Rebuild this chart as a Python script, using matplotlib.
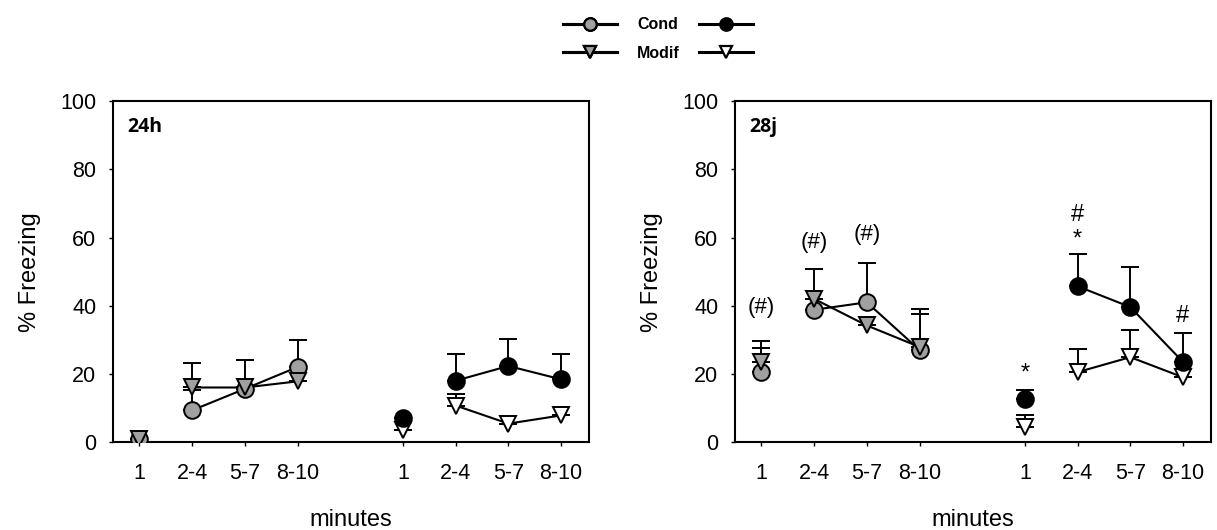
import matplotlib
matplotlib.use("Agg")
import matplotlib.pyplot as plt
from matplotlib.lines import Line2D
import numpy as np

plt.rcParams['font.family'] = ['Liberation Sans', 'DejaVu Sans']

# Category layout: two blocks of four time bins
tick_labels = ["1", "2-4", "5-7", "8-10", "1", "2-4", "5-7", "8-10"]
pos_first = [0, 1, 2, 3]
pos_second = [5, 6, 7, 8]

# 24h session
h24_cond_a = [1, 9.3, 15.6, 22]
h24_cond_a_err = [0, 6.0, 0, 7.8]
h24_modif_a = [1, 16, 16, 17.8]
h24_modif_a_err = [0, 7.2, 8.2, 0]
h24_cond_b = [7, 18, 22.3, 18.4]
h24_cond_b_err = [0, 7.7, 8.0, 7.3]
h24_modif_b = [3.5, 10.7, 5.4, 7.8]
h24_modif_b_err = [0, 3.3, 0, 0]

# 28j session
d28_cond_a = [20.5, 38.8, 41, 27]
d28_cond_a_err = [7, 0, 11.6, 10.6]
d28_modif_a = [23.5, 42, 34.2, 27.9]
d28_modif_a_err = [6, 8.8, 0, 11.2]
d28_cond_b = [12.7, 45.7, 39.6, 23.5]
d28_cond_b_err = [2.6, 9.5, 11.9, 8.5]
d28_modif_b = [4.4, 20.5, 24.9, 19]
d28_modif_b_err = [3.4, 6.9, 8.1, 0]

# Significance marks: (x, y, text)
d28_marks = [(0, 39.6, "(#)"), (1, 58.6, "(#)"), (2, 61.0, "(#)"),
             (5, 20.0, "*"), (6, 59.5, "*"), (6, 66.5, "#"), (8, 37.0, "#")]

gray = "#a0a0a0"
ms = 12


def series(ax, x, y, err, marker, face):
    ax.errorbar(x, y, yerr=[np.zeros(len(err)), err], fmt="none",
                ecolor="black", elinewidth=1.4, capsize=6.5, capthick=1.4, zorder=2)
    # first minute stands alone; the later bins are joined
    ax.plot(x[1:], y[1:], color="black", lw=1.5, zorder=2.5)
    ax.plot(x, y, linestyle="none", marker=marker, ms=ms,
            mfc=face, mec="black", mew=1.4, zorder=3)


def panel(ax, ca, cae, ma, mae, cb, cbe, mb, mbe, tag):
    series(ax, pos_first, ca, cae, "o", gray)
    series(ax, pos_first, ma, mae, "v", gray)
    series(ax, pos_second, mb, mbe, "v", "white")
    series(ax, pos_second, cb, cbe, "o", "black")
    ax.set_xlim(-0.5, 8.53)
    ax.set_ylim(0, 100)
    ax.set_yticks([0, 20, 40, 60, 80, 100])
    ax.set_xticks(pos_first + pos_second)
    ax.set_xticklabels(tick_labels)
    ax.tick_params(axis="both", direction="out", length=3, width=1,
                   labelsize=15.5, colors="black")
    ax.tick_params(axis="x", pad=12)
    ax.tick_params(axis="y", pad=9)
    for s in ax.spines.values():
        s.set_linewidth(1.5)
    ax.set_ylabel("% Freezing", fontsize=17, labelpad=14)
    ax.set_xlabel("minutes", fontsize=17, labelpad=18)
    ax.text(0.03, 0.955, tag, transform=ax.transAxes, fontsize=14,
            fontweight="bold", va="top", ha="left", family="Open Sans")


fig = plt.figure(figsize=(12.17, 5.30), dpi=100)
ax1 = fig.add_axes([0.0929, 0.166, 0.3911, 0.643])
ax2 = fig.add_axes([0.604, 0.166, 0.391, 0.643])

panel(ax1, h24_cond_a, h24_cond_a_err, h24_modif_a, h24_modif_a_err,
      h24_cond_b, h24_cond_b_err, h24_modif_b, h24_modif_b_err, "24h")
panel(ax2, d28_cond_a, d28_cond_a_err, d28_modif_a, d28_modif_a_err,
      d28_cond_b, d28_cond_b_err, d28_modif_b, d28_modif_b_err, "28j")

for x, y, t in d28_marks:
    ax2.text(x, y, t, ha="center", va="center", fontsize=17 if t != "(#)" else 16)


# Legend at the top: grey symbols left of the names, black/white on the right
def handle(marker, face):
    return Line2D([], [], color="black", lw=2.2, marker=marker, ms=9,
                  mfc=face, mec="black", mew=1.6)


leg_kw = dict(loc="center", frameon=False, handlelength=3.9, handletextpad=0.0,
              labelspacing=1.0, borderpad=0.0, borderaxespad=0.0,
              prop={"size": 10})
leg_left = fig.legend([handle("o", gray), handle("v", gray)], ["", ""],
                      bbox_to_anchor=(0.4848, 0.926), **leg_kw)
fig.legend([handle("o", "black"), handle("v", "white")], ["", ""],
           bbox_to_anchor=(0.5965, 0.926), **leg_kw)
fig.add_artist(leg_left)
fig.text(0.5407, 0.953, "Cond", ha="center", va="center",
         fontsize=11.5, fontweight="bold")
fig.text(0.5407, 0.900, "Modif", ha="center", va="center",
         fontsize=11.5, fontweight="bold")

fig.savefig("out.png", dpi=100)
